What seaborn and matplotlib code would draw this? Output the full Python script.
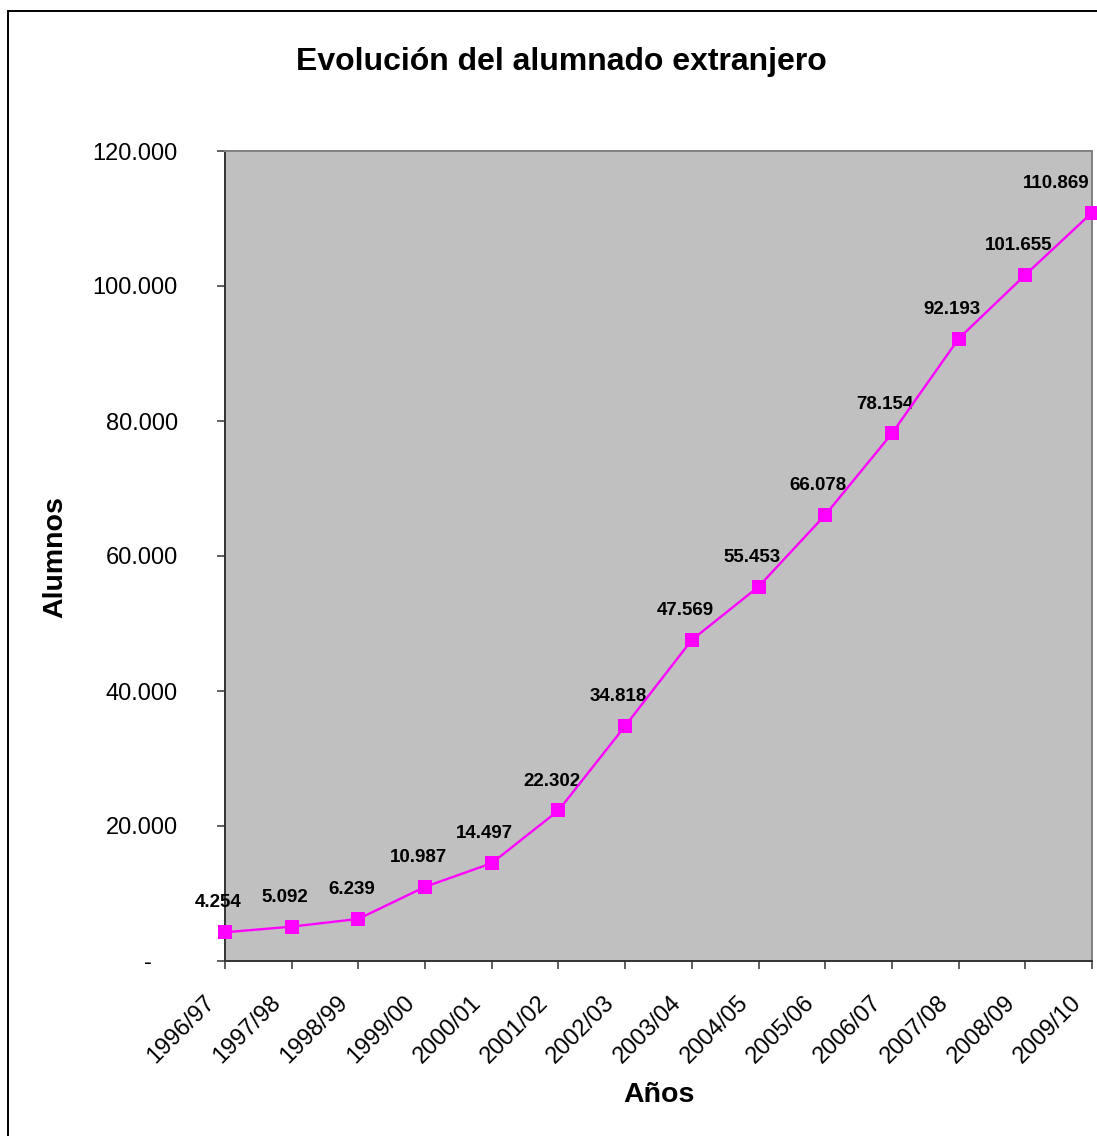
import matplotlib
matplotlib.use("Agg")
import matplotlib.pyplot as plt
import matplotlib.transforms as mtransforms
from matplotlib.lines import Line2D
import seaborn as sns
import pandas as pd

# Curso escolar y número de alumnos extranjeros
cursos = ["1996/97", "1997/98", "1998/99", "1999/00", "2000/01", "2001/02",
          "2002/03", "2003/04", "2004/05", "2005/06", "2006/07", "2007/08",
          "2008/09", "2009/10"]
alumnos = [4254, 5092, 6239, 10987, 14497, 22302, 34818, 47569, 55453,
           66078, 78154, 92193, 101655, 110869]
y_ticks = [0, 20000, 40000, 60000, 80000, 100000, 120000]

titulo = "Evolución del alumnado extranjero"
etiqueta_x = "Años"
etiqueta_y = "Alumnos"


def miles(v):
    """Formato con punto como separador de miles."""
    return f"{int(v):,}".replace(",", ".")


df = pd.DataFrame({"curso": cursos, "alumnos": alumnos})
df["pos"] = range(len(df))

sns.set_theme(style="white")
plt.rcParams["font.family"] = ["Liberation Sans", "DejaVu Sans"]
plt.rcParams.update({"text.color": "black", "axes.labelcolor": "black",
                     "xtick.color": "black", "ytick.color": "black"})

W, H = 1097, 1136
fig = plt.figure(figsize=(W / 100, H / 100), dpi=100)
ax = fig.add_axes([225 / W, 1 - 961 / H, (1092 - 225) / W, (961 - 151) / H])
ax.set_facecolor("#C0C0C0")

sns.lineplot(data=df, x="pos", y="alumnos", ax=ax, color="#FF00FF",
             linewidth=1.7, marker="s", markersize=10.5, markeredgewidth=0,
             clip_on=False, zorder=5)

ax.set_xlim(0, len(cursos) - 1)
ax.set_ylim(0, 120000)

# Ejes
for side in ["left", "bottom"]:
    ax.spines[side].set_color("#333333")
    ax.spines[side].set_linewidth(1.4)
for side in ["top", "right"]:
    ax.spines[side].set_color("#808080")
    ax.spines[side].set_linewidth(1.4)

ax.set_yticks(y_ticks)
ax.set_yticklabels(["-"] + [miles(v) for v in y_ticks[1:]])
ax.set_xticks(df["pos"])
ax.set_xticklabels(cursos, rotation=45, ha="right")

ax.tick_params(axis="y", direction="out", length=6, width=1.2,
               color="#444444", labelcolor="black", labelsize=17, pad=28, left=True)
ax.tick_params(axis="x", direction="out", length=6, width=1.2,
               color="#444444", labelcolor="black", labelsize=17, pad=16, bottom=True)

# Desplazamiento de las etiquetas giradas y del guion del cero
shift_x = mtransforms.ScaledTranslation(-6 / 100, 0, fig.dpi_scale_trans)
for lbl in ax.get_xticklabels():
    lbl.set_transform(lbl.get_transform() + shift_x)
zero_lbl = ax.get_yticklabels()[0]
zero_lbl.set_transform(zero_lbl.get_transform()
                       + mtransforms.ScaledTranslation(-26 / 100, 0, fig.dpi_scale_trans))

ax.set_xlabel("")
ax.set_ylabel("")

# Etiquetas de datos
n = len(cursos)
for i, v in enumerate(alumnos):
    if i == n - 1:
        ax.annotate(miles(v), (i, v), xytext=(-2, 15), textcoords="offset points",
                    ha="right", va="bottom", fontsize=13.5, fontweight="bold",
                    color="black", annotation_clip=False)
    else:
        ax.annotate(miles(v), (i, v), xytext=(-5, 15), textcoords="offset points",
                    ha="center", va="bottom", fontsize=13.5, fontweight="bold",
                    color="black", annotation_clip=False)

# Títulos
fig.text(561 / W, 1 - 62 / H, titulo, ha="center", va="center",
         fontsize=23, fontweight="bold")
fig.text(659 / W, 1 - 1095 / H, etiqueta_x, ha="center", va="center",
         fontsize=20.5, fontweight="bold")
fig.text(55 / W, 1 - 557 / H, etiqueta_y, ha="center", va="center",
         fontsize=20.5, fontweight="bold", rotation=90)

# Marco del gráfico
fig.add_artist(Line2D([8 / W, 8 / W], [1 - 11 / H, 0], transform=fig.transFigure,
                      color="black", linewidth=1.4))
fig.add_artist(Line2D([8 / W, 1], [1 - 11 / H, 1 - 11 / H], transform=fig.transFigure,
                      color="black", linewidth=1.4))

fig.savefig("out.png", dpi=100, facecolor="white")
